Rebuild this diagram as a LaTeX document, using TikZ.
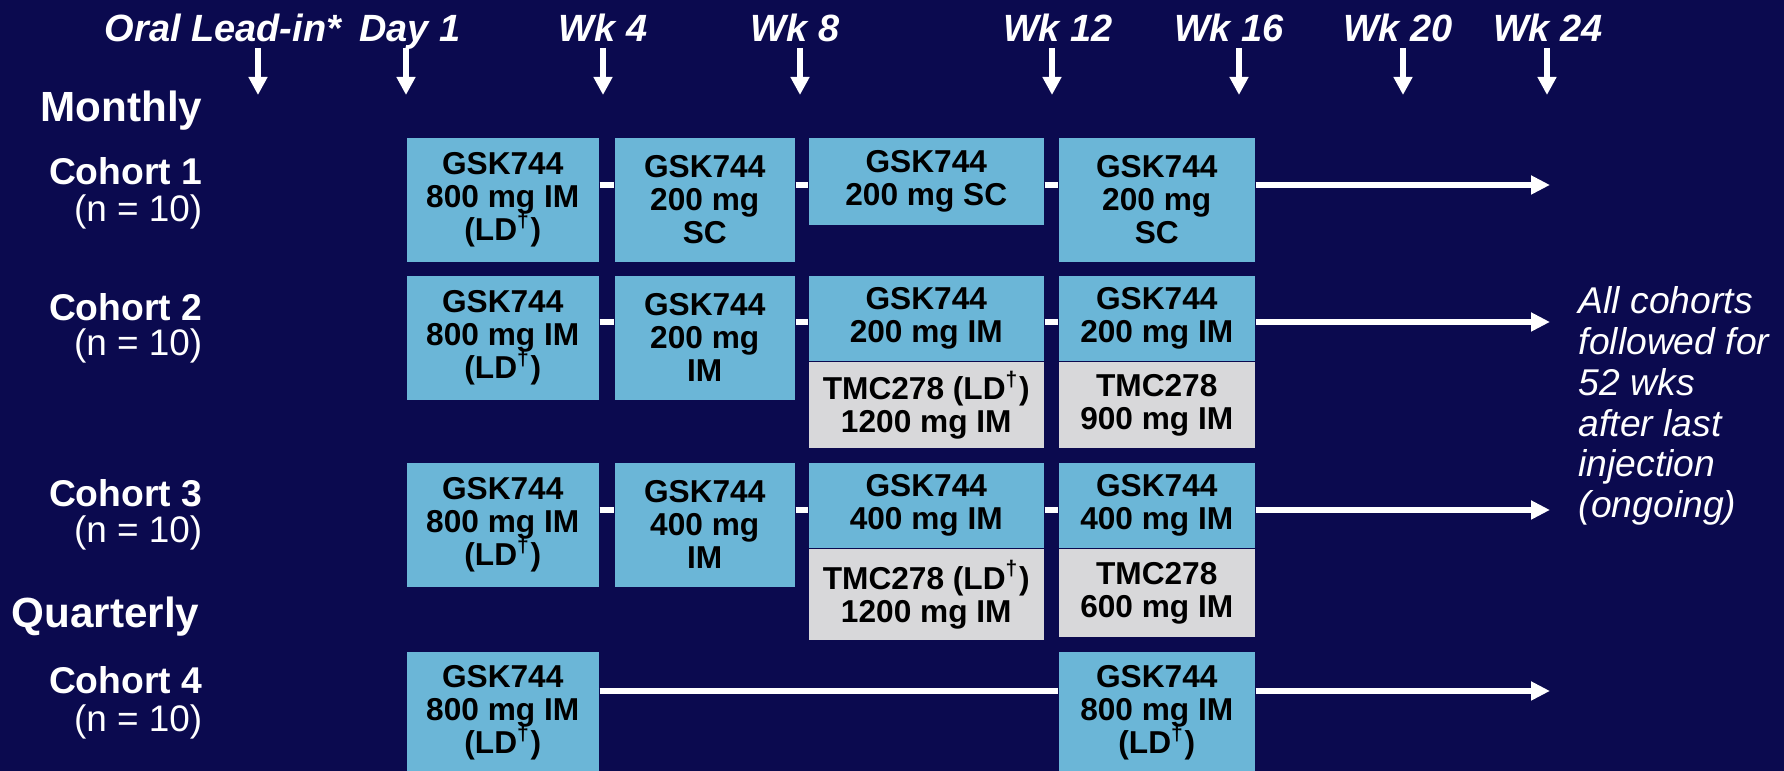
\documentclass[tikz,border=0pt]{standalone}
\usepackage{fontspec}
\setmainfont{Liberation Sans}
\usepackage{tikz}
\usetikzlibrary{
  arrows.meta,
  positioning
}
\definecolor{ltNavy}{HTML}{0B0A4F}
\definecolor{ltBlue}{HTML}{6BB6D7}
\definecolor{ltGray}{HTML}{D8D8DA}
\tikzset{
  dose/.style={
    anchor=north west, inner sep=0pt, align=center,
    font=\fontsize{9}{9.4}\selectfont\bfseries, text=black,
    execute at begin node=\setlength{\lineskiplimit}{-9pt}
  },
  gsk/.style={dose, fill=ltBlue},
  tmc/.style={dose, fill=ltGray},
  wklabel/.style={anchor=base, font=\fontsize{10.8}{12}\selectfont\bfseries\itshape, text=white},
  grouplabel/.style={anchor=west, inner sep=0pt, font=\fontsize{12}{14}\selectfont\bfseries, text=white},
  cohort/.style={anchor=east, inner sep=0pt, font=\fontsize{10.6}{12}\selectfont\bfseries, text=white},
  nsize/.style={anchor=east, inner sep=0pt, font=\fontsize{10.5}{12}\selectfont, text=white},
  tick/.style={-{Triangle[length=1.8mm, width=1.8mm]}, white, line width=1.7pt},
  link/.style={white, line width=1.7pt},
  follow/.style={link, -{Triangle[length=1.9mm, width=1.8mm]}},
  note/.style={anchor=west, align=left, inner sep=0pt, font=\fontsize{10.6}{11.6}\selectfont\itshape, text=white}
}
\newcommand{\ldag}{(LD\textsuperscript{\textdagger})}

\begin{document}
\begin{tikzpicture}[x=0.01cm, y=-0.01cm,
    cola/.style={minimum width=1.92cm},
    colb/.style={minimum width=1.80cm},
    colc/.style={minimum width=2.35cm},
    cold/.style={minimum width=1.96cm},
    tall/.style={minimum height=1.24cm},
    half/.style={minimum height=0.85cm}]
  \fill[ltNavy] (0,0) rectangle (1784,771);
  \useasboundingbox (0,0) rectangle (1784,771);

  % visits
  \foreach \n/\lab/\lx/\ax in {0/Oral Lead-in*/223/258, 1/Day 1/410/406, 4/Wk 4/603/603,
      8/Wk 8/795/800, 12/Wk 12/1058/1052, 16/Wk 16/1229/1239, 20/Wk 20/1398/1403, 24/Wk 24/1548/1547} {
    \node[wklabel] (w\n) at (\lx,42) {\lab};
    \coordinate (a\n) at (\ax,95);
    \draw[tick] (a\n |- 0,48) -- (a\n);
  }

  % row labels
  \node[grouplabel] (monthly) at (40,111) {Monthly};
  \node[cohort] (co1) at (203,171) {Cohort 1};
  \node[nsize] (n1) at (203,212) {(n = 10)};
  \node[cohort] (co2) at (203,307) {Cohort 2};
  \node[nsize] (n2) at (203,346) {(n = 10)};
  \node[cohort] (co3) at (203,493) {Cohort 3};
  \node[nsize] (n3) at (203,533) {(n = 10)};
  \node[grouplabel] (quarterly) at (11,617) {Quarterly};
  \node[cohort] (co4) at (203,680) {Cohort 4};
  \node[nsize] (n4) at (203,722) {(n = 10)};

  % cohort 1
  \node[gsk, cola, tall] (c1a) at (406,137) {GSK744\\800 mg IM\\\ldag};
  \node[gsk, colb, tall] (c1b) at (614,137) {GSK744\\200 mg\\SC};
  \node[gsk, colc, minimum height=0.87cm] (c1c) at (808,137) {GSK744\\200 mg SC};
  \node[gsk, cold, tall] (c1d) at (1058,137) {GSK744\\200 mg\\SC};

  % cohort 2
  \node[gsk, cola, tall] (c2a) at (406,275) {GSK744\\800 mg IM\\\ldag};
  \node[gsk, colb, tall] (c2b) at (614,275) {GSK744\\200 mg\\IM};
  \node[gsk, colc, half] (c2c) at (808,275) {GSK744\\200 mg IM};
  \node[tmc, colc, minimum height=0.86cm] (c2cl) at (c2c.south west) {TMC278 \ldag\\1200 mg IM};
  \node[gsk, cold, half] (c2d) at (1058,275) {GSK744\\200 mg IM};
  \node[tmc, cold, minimum height=0.86cm] (c2dl) at (c2d.south west) {TMC278\\900 mg IM};

  % cohort 3
  \node[gsk, cola, tall] (c3a) at (406,462) {GSK744\\800 mg IM\\\ldag};
  \node[gsk, colb, tall] (c3b) at (614,462) {GSK744\\400 mg\\IM};
  \node[gsk, colc, half] (c3c) at (808,462) {GSK744\\400 mg IM};
  \node[tmc, colc, minimum height=0.91cm] (c3cl) at (c3c.south west) {TMC278 \ldag\\1200 mg IM};
  \node[gsk, cold, half] (c3d) at (1058,462) {GSK744\\400 mg IM};
  \node[tmc, cold, minimum height=0.88cm] (c3dl) at (c3d.south west) {TMC278\\600 mg IM};

  % cohort 4
  \node[gsk, cola, minimum height=1.22cm] (c4a) at (406,651) {GSK744\\800 mg IM\\\ldag};
  \node[gsk, cold, minimum height=1.22cm] (c4d) at (1058,651) {GSK744\\800 mg IM\\\ldag};

  % timelines
  \coordinate (r1) at (1550,185);
  \coordinate (r2) at (1550,322);
  \coordinate (r3) at (1550,510);
  \coordinate (r4) at (1550,691);
  \foreach \r in {1,2,3} {
    \foreach \p/\q in {a/b, b/c, c/d}
      \draw[link] (c\r\p.east |- r\r) -- (c\r\q.west |- r\r);
    \draw[follow] (c\r d.east |- r\r) -- (r\r);
  }
  \draw[link] (c4a.east |- r4) -- (c4d.west |- r4);
  \draw[follow] (c4d.east |- r4) -- (r4);

  \node[note] (fu) at (1578,406) {All cohorts\\followed for\\52 wks\\after last\\injection\\(ongoing)};
\end{tikzpicture}
\end{document}
